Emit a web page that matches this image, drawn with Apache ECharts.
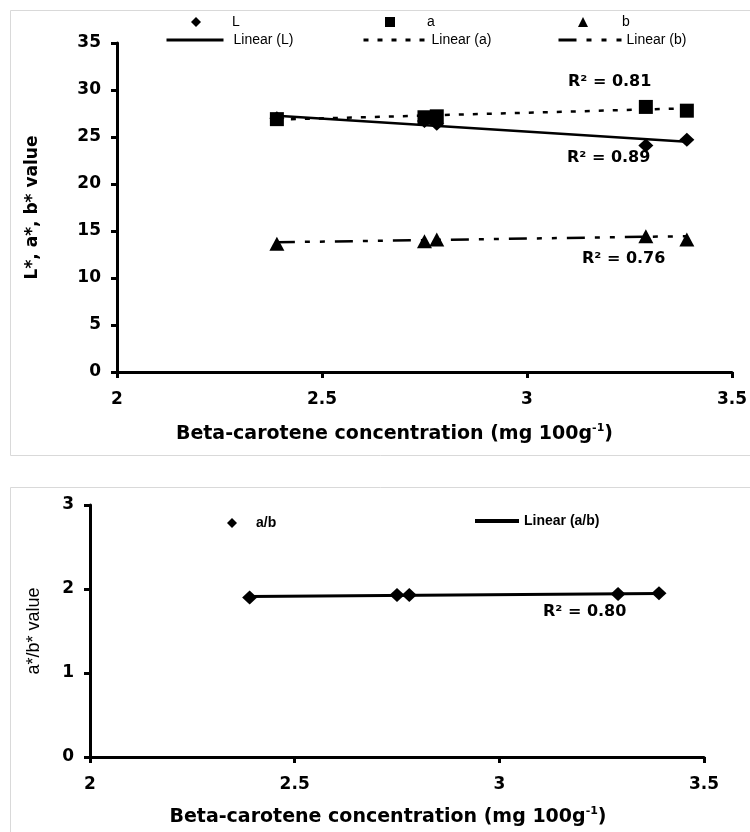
<!DOCTYPE html>
<html lang="en">
<head>
<meta charset="UTF-8">
<title>L*, a*, b* and a*/b* vs beta-carotene</title>
<script src="https://cdn.jsdelivr.net/npm/echarts@6/dist/echarts.min.js"></script>
</head>
<body style="margin:0; background:#fff">
<div id="main" style="width:750px; height:832px"></div>
<script>
// values
var conc = [2.39, 2.75, 2.78, 3.29, 3.39];
var valL = [27.0, 26.7, 26.4, 24.1, 24.7];
var valA = [26.9, 27.1, 27.2, 28.2, 27.8];
var valB = [13.65, 13.9, 14.1, 14.45, 14.1];
var ratioAB = [1.90, 1.93, 1.93, 1.94, 1.95];

// trend line end points, also
var trendX = [2.39, 3.39];
var trendL = [27.25, 24.5];
var trendA = [26.85, 28.05];
var trendB = [13.8, 14.45];
var trendAB = [1.91, 1.945];

var r2Text = ['R\u00b2 = 0.81', 'R\u00b2 = 0.89', 'R\u00b2 = 0.76', 'R\u00b2 = 0.80'];

function pairs(xs, ys) {
    return xs.map(function (x, i) { return [x, ys[i]]; });
}

var chart = echarts.init(document.getElementById('main'));

var boldFont = 'DejaVu Sans';
var tickFont = { fontFamily: boldFont, fontWeight: 'bold', fontSize: 17, color: '#000' };
var axLine = { show: true, onZero: false, lineStyle: { color: '#000', width: 3 } };
var axTick = { show: true, length: 6, lineStyle: { color: '#000', width: 3 } };
var legFont = { fontFamily: 'Liberation Sans', fontSize: 14, color: '#000' };
var legFontBold = { fontFamily: 'Liberation Sans', fontWeight: 'bold', fontSize: 14, color: '#000' };

var xName = '{n|Beta-carotene concentration (mg 100g}{s|-1}{n|)}';
function xNameStyle(shift) {
    return {
        padding: [0, shift, 0, 0],
        rich: {
            n: { fontFamily: boldFont, fontWeight: 'bold', fontSize: 19, color: '#000', lineHeight: 22 },
            s: { fontFamily: boldFont, fontWeight: 'bold', fontSize: 11, color: '#000', verticalAlign: 'top', lineHeight: 12 }
        }
    };
}

function xAxis(grid, gap, shift) {
    return {
        type: 'value', gridIndex: grid, min: 2, max: 3.5, interval: 0.5,
        axisLine: axLine, axisTick: axTick, splitLine: { show: false },
        axisLabel: Object.assign({ margin: 19 }, tickFont),
        name: xName, nameLocation: 'middle', nameGap: gap, nameTextStyle: xNameStyle(shift)
    };
}

// line legends must not show a symbol
var noSymbol = { color: 'transparent', borderColor: 'transparent', borderWidth: 0 };

function legendItem(name, left, top, w, h, pad, font, extra) {
    return Object.assign({
        data: [name], left: left, top: top, itemWidth: w, itemHeight: h,
        selectedMode: false, padding: 0,
        textStyle: Object.assign({ padding: [0, 0, 0, pad] }, font)
    }, extra || {});
}

chart.setOption({
    animation: false,
    backgroundColor: '#fff',
    grid: [
        { left: 117, right: 17, top: 43, bottom: 460 },
        { left: 90, right: 46, top: 505, bottom: 75 }
    ],
    xAxis: [xAxis(0, 51, 60), xAxis(1, 49, 18)],
    yAxis: [
        {
            type: 'value', gridIndex: 0, min: 0, max: 35, interval: 5,
            axisLine: axLine, axisTick: axTick, splitLine: { show: false },
            axisLabel: Object.assign({ margin: 16 }, tickFont),
            name: 'L*, a*, b* value', nameLocation: 'middle', nameGap: 76,
            nameTextStyle: { fontFamily: boldFont, fontWeight: 'bold', fontSize: 17, color: '#000' }
        },
        {
            type: 'value', gridIndex: 1, min: 0, max: 3, interval: 1,
            axisLine: axLine, axisTick: axTick, splitLine: { show: false },
            axisLabel: Object.assign({ margin: 16 }, tickFont),
            name: 'a*/b* value', nameLocation: 'middle', nameGap: 47,
            nameTextStyle: { fontFamily: 'Liberation Sans', fontSize: 18, color: '#000' }
        }
    ],
    legend: [
        legendItem('L', 191, 15, 10, 10, 26, legFont),
        legendItem('a', 385, 15, 10, 10, 27, legFont),
        legendItem('b', 578, 15, 10, 10, 29, legFont),
        legendItem('Linear (L)', 165, 33, 57, 14, 5, legFont, { itemStyle: noSymbol, lineStyle: { width: 3 } }),
        legendItem('Linear (a)', 362, 33, 63, 14, 0, legFont, { itemStyle: noSymbol, lineStyle: { width: 3 } }),
        legendItem('Linear (b)', 557, 33, 63, 14, 0, legFont, { itemStyle: noSymbol, lineStyle: { width: 3 } }),
        legendItem('a/b', 227, 516, 10, 10, 14, legFontBold),
        legendItem('Linear (a/b)', 473, 514, 44, 14, 0, legFontBold, { itemStyle: noSymbol, lineStyle: { width: 4 } })
    ],
    graphic: [
        { type: 'rect', shape: { x: 10.5, y: 10.5, width: 760, height: 445 }, style: { fill: 'none', stroke: '#d9d9d9', lineWidth: 1 }, silent: true, z: -1 },
        { type: 'rect', shape: { x: 10.5, y: 487.5, width: 760, height: 360 }, style: { fill: 'none', stroke: '#d9d9d9', lineWidth: 1 }, silent: true, z: -1 },
        { type: 'text', left: 568, top: 74, style: { text: r2Text[0], font: 'bold 16px "DejaVu Sans"', fill: '#000' } },
        { type: 'text', left: 567, top: 150, style: { text: r2Text[1], font: 'bold 16px "DejaVu Sans"', fill: '#000' } },
        { type: 'text', left: 582, top: 251, style: { text: r2Text[2], font: 'bold 16px "DejaVu Sans"', fill: '#000' } },
        { type: 'text', left: 543, top: 604, style: { text: r2Text[3], font: 'bold 16px "DejaVu Sans"', fill: '#000' } }
    ],
    series: [
        {
            name: 'Linear (L)', type: 'line', xAxisIndex: 0, yAxisIndex: 0,
            data: pairs(trendX, trendL), symbol: 'none', z: 2,
            lineStyle: { color: '#000', width: 2.5, type: 'solid' }, itemStyle: { color: '#000' }
        },
        {
            name: 'Linear (a)', type: 'line', xAxisIndex: 0, yAxisIndex: 0,
            data: pairs(trendX, trendA), symbol: 'none', z: 2,
            lineStyle: { color: '#000', width: 2.5, type: [5, 9] }, itemStyle: { color: '#000' }
        },
        {
            name: 'Linear (b)', type: 'line', xAxisIndex: 0, yAxisIndex: 0,
            data: pairs(trendX, trendB), symbol: 'none', z: 2,
            lineStyle: { color: '#000', width: 2.5, type: [18, 10, 5, 10, 5, 10] }, itemStyle: { color: '#000' }
        },
        {
            name: 'L', type: 'scatter', xAxisIndex: 0, yAxisIndex: 0,
            data: pairs(conc, valL), symbol: 'diamond', symbolSize: [15, 14], z: 3,
            itemStyle: { color: '#000', opacity: 1 }
        },
        {
            name: 'a', type: 'scatter', xAxisIndex: 0, yAxisIndex: 0,
            data: pairs(conc, valA), symbol: 'rect', symbolSize: 14, z: 4,
            itemStyle: { color: '#000', opacity: 1 }
        },
        {
            name: 'b', type: 'scatter', xAxisIndex: 0, yAxisIndex: 0,
            data: pairs(conc, valB), symbol: 'triangle', symbolSize: [15, 14], z: 4,
            itemStyle: { color: '#000', opacity: 1 }
        },
        {
            name: 'Linear (a/b)', type: 'line', xAxisIndex: 1, yAxisIndex: 1,
            data: pairs(trendX, trendAB), symbol: 'none', z: 2,
            lineStyle: { color: '#000', width: 3, type: 'solid' }, itemStyle: { color: '#000' }
        },
        {
            name: 'a/b', type: 'scatter', xAxisIndex: 1, yAxisIndex: 1,
            data: pairs(conc, ratioAB), symbol: 'diamond', symbolSize: [15, 14], z: 3,
            itemStyle: { color: '#000', opacity: 1 }
        }
    ]
});
</script>
</body>
</html>
